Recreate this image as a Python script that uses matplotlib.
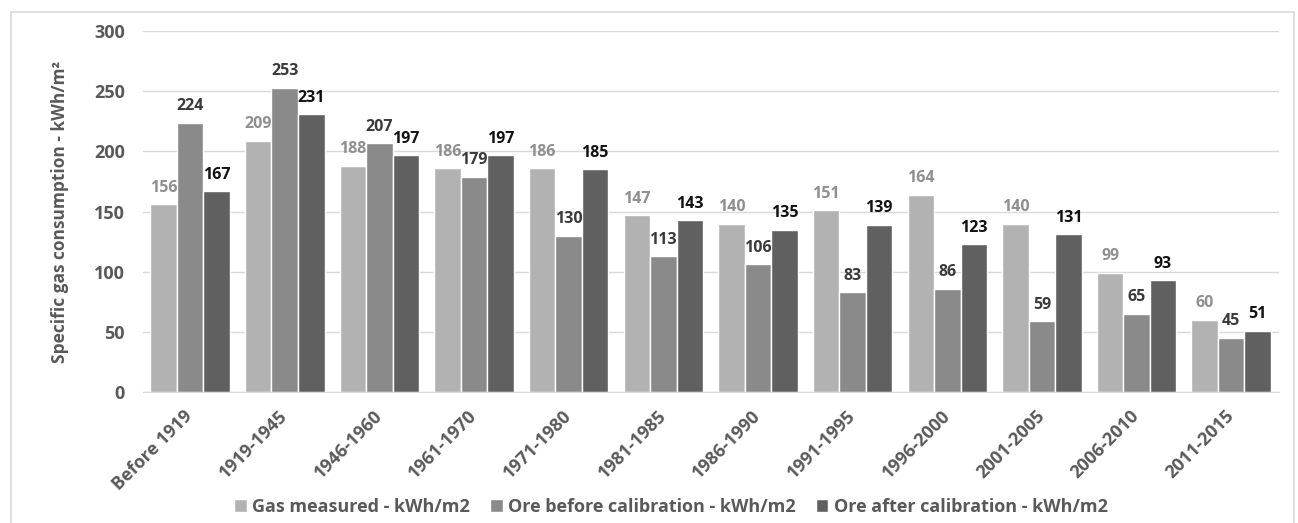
import matplotlib
matplotlib.use("Agg")
import matplotlib.pyplot as plt
from matplotlib.patches import Rectangle
import numpy as np

plt.rcParams['font.family'] = ['Open Sans', 'DejaVu Sans']

periodos = ["Before 1919", "1919-1945", "1946-1960", "1961-1970", "1971-1980", "1981-1985",
            "1986-1990", "1991-1995", "1996-2000", "2001-2005", "2006-2010", "2011-2015"]
gas_medido = [156, 209, 188, 186, 186, 147, 140, 151, 164, 140, 99, 60]
ore_antes = [224, 253, 207, 179, 130, 113, 106, 83, 86, 59, 65, 45]
ore_despues = [167, 231, 197, 197, 185, 143, 135, 139, 123, 131, 93, 51]

series = [
    ("Gas measured - kWh/m2", gas_medido, "#b2b2b2", "#8f8f8f"),
    ("Ore before calibration - kWh/m2", ore_antes, "#8a8a8a", "#3a3a3a"),
    ("Ore after calibration - kWh/m2", ore_despues, "#606060", "#111111"),
]

fig = plt.figure(figsize=(12.98, 5.23), dpi=100)
ax = fig.add_axes([0.110, 0.2505, 0.875, 0.690])

# marco del grafico
fig.patches.append(Rectangle((11 / 1298, -0.01), (1294 - 11) / 1298, 1 - 12 / 523 + 0.01,
                             transform=fig.transFigure, fill=False, edgecolor="#d9d9d9", linewidth=1.2))

x = np.arange(len(periodos))
ancho = 0.28
for i, (nombre, valores, color, color_txt) in enumerate(series):
    pos = x + (i - 1) * ancho
    ax.bar(pos, valores, ancho, color=color, edgecolor="white", linewidth=1, label=nombre, zorder=2)
    for xp, v in zip(pos, valores):
        ax.text(xp, v + 7, str(v), ha="center", va="bottom", fontsize=11.5, fontweight="bold", color=color_txt)

ax.set_xlim(-0.5, len(periodos) - 0.5)
ax.set_ylim(0, 300)
ax.set_yticks(range(0, 301, 50))
ax.yaxis.grid(True, color="#d9d9d9", linewidth=1)
ax.set_axisbelow(True)
for lado in ["top", "right", "left"]:
    ax.spines[lado].set_visible(False)
ax.spines["bottom"].set_color("#d9d9d9")
ax.tick_params(axis="both", length=0, colors="#595959", labelsize=13)
ax.tick_params(axis="y", pad=13)
ax.tick_params(axis="x", pad=15)
ax.set_xticks(x)
ax.set_xticklabels(periodos, rotation=45, ha="right", va="center", rotation_mode="anchor", fontweight="bold")
for t in ax.get_yticklabels():
    t.set_fontweight("bold")
ax.set_ylabel("Specific gas consumption - kWh/m²", fontsize=12.5, fontweight="bold", color="#595959", labelpad=18)

fig.legend(*ax.get_legend_handles_labels(), loc="center", bbox_to_anchor=(671 / 1298, 16 / 523), ncol=3,
           frameon=False, handlelength=0.7, handleheight=0.7, handletextpad=0.3, columnspacing=1.1,
           prop={"weight": "bold", "size": 13}, labelcolor="#595959", borderpad=0)

fig.savefig("out.png", dpi=100)
